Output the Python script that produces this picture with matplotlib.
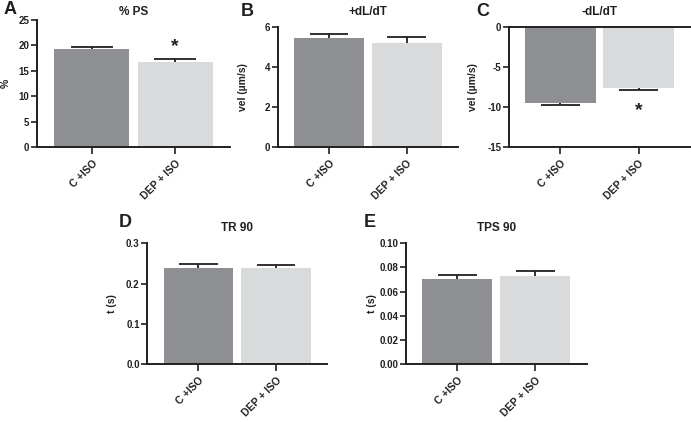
import matplotlib
matplotlib.use("Agg")
import matplotlib.pyplot as plt

plt.rcParams['font.family'] = ['Liberation Sans', 'DejaVu Sans']
plt.rcParams['font.weight'] = 'bold'

categories = ["C +ISO", "DEP + ISO"]

ps_vals = [19.2, 16.7]
ps_err = [0.5, 0.6]
pdl_vals = [5.45, 5.2]
pdl_err = [0.2, 0.3]
ndl_vals = [-9.5, -7.55]
ndl_err = [0.25, 0.35]
tr_vals = [0.239, 0.238]
tr_err = [0.010, 0.008]
tps_vals = [0.0702, 0.0732]
tps_err = [0.0035, 0.0036]

titles = ["% PS", "+dL/dT", "-dL/dT", "TR 90", "TPS 90"]
letters = ["A", "B", "C", "D", "E"]
ylabels = ["%", "vel (\u00b5m/s)", "vel (\u00b5m/s)", "t (s)", "t (s)"]
yticks_list = [[0, 5, 10, 15, 20, 25], [0, 2, 4, 6], [-15, -10, -5, 0],
               [0.0, 0.1, 0.2, 0.3], [0.00, 0.02, 0.04, 0.06, 0.08, 0.10]]
yticklabels_list = [["0", "5", "10", "15", "20", "25"], ["0", "2", "4", "6"],
                    ["-15", "-10", "-5", "0"], ["0.0", "0.1", "0.2", "0.3"],
                    ["0.00", "0.02", "0.04", "0.06", "0.08", "0.10"]]
sig = [[False, True], [False, False], [False, True], [False, False], [False, False]]

W, H = 691, 422
fig = plt.figure(figsize=(W / 100, H / 100), dpi=100)

# axes boxes in pixels: (x0, x1, ytop, ybottom)
boxes = [(37, 230, 20, 147), (277.7, 458, 26.7, 147.3), (509, 690, 27.3, 147.3),
         (147.3, 327, 243.3, 364), (406, 586.7, 243.3, 364)]
letter_pos = [(10, 10), (247, 12), (483, 12), (125, 223), (370, 223)]
title_y = [12, 12, 12, 228, 228]
ylabel_x = [6, 243, 473, 112, 372]

data = [(ps_vals, ps_err), (pdl_vals, pdl_err), (ndl_vals, ndl_err),
        (tr_vals, tr_err), (tps_vals, tps_err)]
colors = ["#8e8f92", "#d9dadc"]
dark = "#231f20"
cap_half = 0.25

for i, (box, (vals, errs)) in enumerate(zip(boxes, data)):
    x0, x1, yt, yb = box
    ax = fig.add_axes([x0 / W, 1 - yb / H, (x1 - x0) / W, (yb - yt) / H])
    pos = [0, 1]
    ax.bar(pos, vals, width=0.9, color=colors, zorder=2)
    for p, v, e in zip(pos, vals, errs):
        end = v + e if v >= 0 else v - e
        ax.vlines(p, v, end, color=dark, linewidth=1.3, zorder=3)
        ax.hlines(end, p - cap_half, p + cap_half, color=dark, linewidth=1.3, zorder=3)
    ax.set_xlim(-0.66, 1.66)
    yt_ = yticks_list[i]
    ax.set_ylim(min(yt_), max(yt_))
    ax.set_yticks(yt_)
    ax.set_yticklabels(yticklabels_list[i], fontsize=7, fontweight='bold')
    ax.set_xticks(pos)
    ax.set_xticklabels(categories, rotation=45, ha='right', rotation_mode='anchor',
                       fontsize=7.5, fontweight='bold')
    for s in ['top', 'right']:
        ax.spines[s].set_visible(False)
    for s in ['left', 'bottom']:
        ax.spines[s].set_linewidth(1.4)
        ax.spines[s].set_color(dark)
    if i == 2:
        ax.spines['top'].set_visible(True)
        ax.spines['top'].set_linewidth(1.4)
        ax.spines['top'].set_color(dark)
    ax.tick_params(axis='both', direction='out', length=4, width=1.2, color=dark,
                   pad=1.5, labelcolor=dark)
    ax.tick_params(axis='x', length=5, pad=3)
    rng = max(yt_) - min(yt_)
    for j, s in enumerate(sig[i]):
        if s:
            v, e = vals[j], errs[j]
            if v >= 0:
                ax.text(pos[j], v + e + rng * 0.03, "*", ha='center', va='bottom',
                        fontsize=14, fontweight='bold', color=dark)
            else:
                ax.text(pos[j], v - e - rng * 0.095, "*",
                        ha='center', va='top', fontsize=14, fontweight='bold',
                        color=dark)
    cx = (x0 + x1) / 2
    fig.text(cx / W, 1 - title_y[i] / H, titles[i], ha='center', va='center',
             fontsize=8.5, fontweight='bold', color=dark)
    lx, ly = letter_pos[i]
    fig.text(lx / W, 1 - ly / H, letters[i], ha='center', va='center',
             fontsize=13, fontweight='bold', color=dark)
    fig.text(ylabel_x[i] / W, 1 - ((yt + yb) / 2) / H, ylabels[i], ha='center',
             va='center', rotation=90, fontsize=7.5, fontweight='bold', color=dark)

fig.savefig("out.png", dpi=100, facecolor='white')
